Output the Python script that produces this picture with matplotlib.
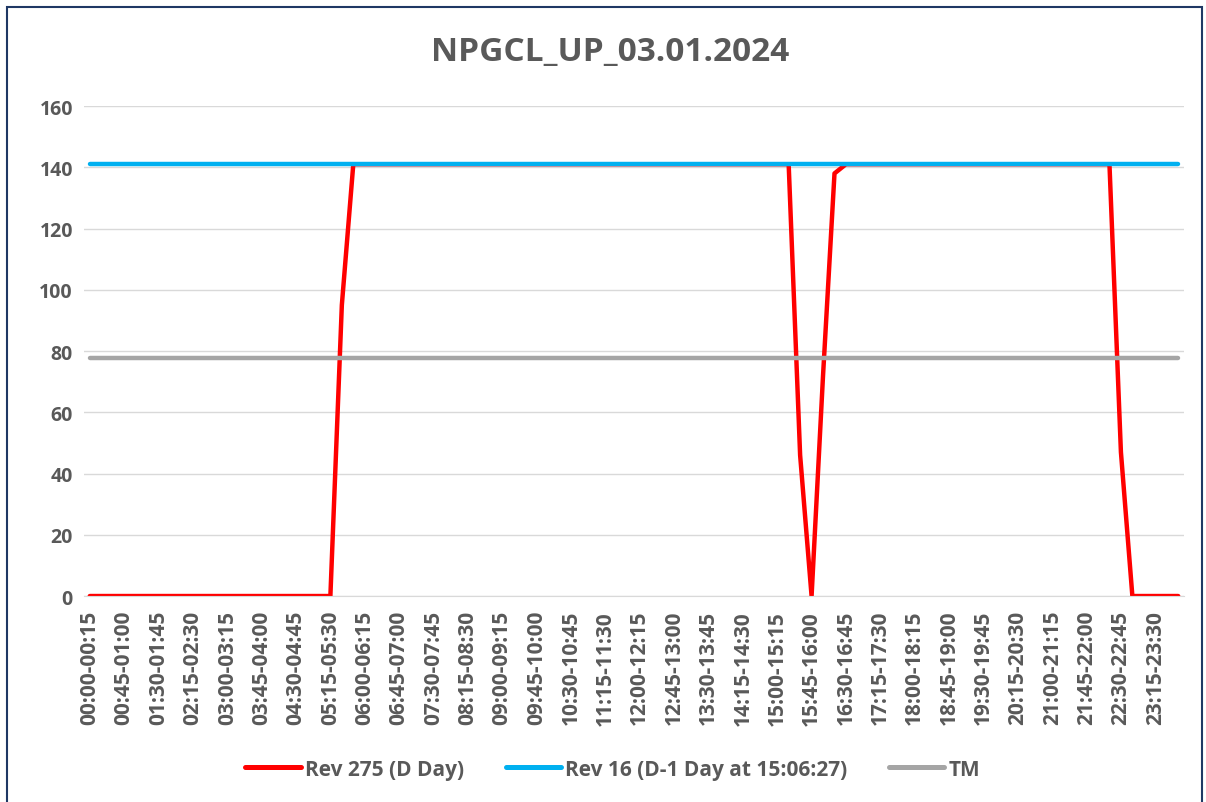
import matplotlib
matplotlib.use("Agg")
import matplotlib.pyplot as plt
from matplotlib.patches import Rectangle

plt.rcParams["font.family"] = ["Open Sans", "DejaVu Sans"]

# 96 fifteen-minute blocks of the day
blocks = []
for i in range(96):
    h1, m1 = divmod(i * 15, 60)
    h2, m2 = divmod((i + 1) * 15, 60)
    blocks.append(f"{h1:02d}:{m1:02d}-{h2 % 24:02d}:{m2:02d}")

rev275 = [
    0, 0, 0, 0, 0, 0, 0, 0, 0, 0, 0, 0,
    0, 0, 0, 0, 0, 0, 0, 0, 0, 0, 95, 141,
    141, 141, 141, 141, 141, 141, 141, 141, 141, 141, 141, 141,
    141, 141, 141, 141, 141, 141, 141, 141, 141, 141, 141, 141,
    141, 141, 141, 141, 141, 141, 141, 141, 141, 141, 141, 141,
    141, 141, 46, 0, 72, 138, 141, 141, 141, 141, 141, 141,
    141, 141, 141, 141, 141, 141, 141, 141, 141, 141, 141, 141,
    141, 141, 141, 141, 141, 141, 47, 0, 0, 0, 0, 0,
]
rev16 = [141] * 96
tm = [77.7] * 96

y_ticks = [0, 20, 40, 60, 80, 100, 120, 140, 160]
title = "NPGCL_UP_03.01.2024"
names = ["Rev 275 (D Day)", "Rev 16 (D-1 Day at 15:06:27)", "TM"]
colors = ["#ff0000", "#00b0f0", "#a5a5a5"]

txt = "#595959"
fig = plt.figure(figsize=(12.06, 8.03), dpi=100)
ax = fig.add_axes([0.0697, 0.2565, 0.912, 0.6102])

x = list(range(96))
for ys, name, c in zip([rev275, rev16, tm], names, colors):
    ax.plot(x, ys, color=c, lw=3.2, label=name, solid_capstyle="round",
            solid_joinstyle="round")

ax.set_xlim(-0.5, 95.5)
ax.set_ylim(0, 160)
ax.set_yticks(y_ticks)
ax.set_yticklabels([str(v) for v in y_ticks], fontsize=14, fontweight="bold", color=txt)
ax.set_xticks(x[::3])
ax.set_xticklabels(blocks[::3], rotation=90, fontsize=15, fontweight="bold", color=txt)
ax.tick_params(axis="both", length=0, pad=8)
ax.tick_params(axis="x", pad=10)
ax.grid(axis="y", color="#d9d9d9", lw=1)
ax.set_axisbelow(True)
for s in ax.spines.values():
    s.set_visible(False)
ax.spines["bottom"].set_visible(True)
ax.spines["bottom"].set_color("#d9d9d9")

fig.text(0.506, 0.935, title, ha="center", va="center", fontsize=24,
         fontweight="bold", color=txt)

leg = fig.legend(loc="center", bbox_to_anchor=(0.508, 0.041), ncol=3, frameon=False,
                 fontsize=15, handlelength=2.65, handletextpad=0.2, columnspacing=2.0)
for t in leg.get_texts():
    t.set_color(txt)
    t.set_fontweight("bold")
for h in leg.get_lines():
    h.set_linewidth(3.6)

fig.patches.append(Rectangle((0.006, -0.01), 0.991, 1.0, transform=fig.transFigure,
                             fill=False, edgecolor="#1f3864", lw=1.5))

fig.savefig("out.png", dpi=100)
